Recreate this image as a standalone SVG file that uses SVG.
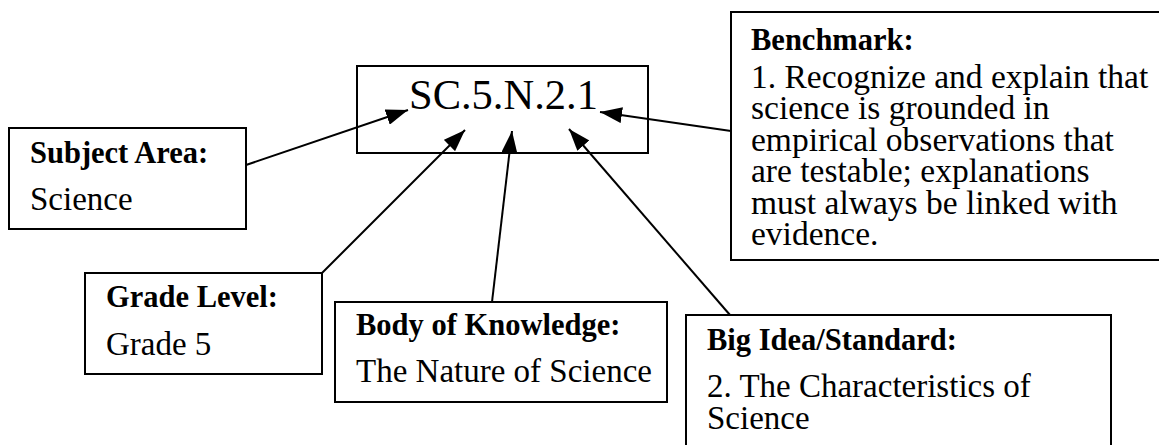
<svg xmlns="http://www.w3.org/2000/svg" width="1159" height="445" viewBox="0 0 1159 445">
<style>
.box{fill:#fff;stroke:#000;stroke-width:2}
.t{font-family:"Liberation Serif","Times New Roman",serif;fill:#000}
.b{font-weight:bold;font-size:30.5px}
.r{font-size:33px}
.bm{font-size:33.5px}
</style>
<defs>
<marker id="ah" viewBox="0 0 22 16" refX="22" refY="8" markerWidth="22" markerHeight="16" markerUnits="userSpaceOnUse" orient="auto">
<path d="M0,0 L22,8 L0,16 z" fill="#000"/>
</marker>
</defs>
<g id="code">
<rect class="box" x="357" y="66" width="291" height="87"/>
<text class="t" x="409" y="109" font-size="42.5">SC.5.N.2.1</text>
</g>
<g id="subject">
<rect class="box" x="9" y="128" width="237" height="101"/>
<text class="t b" x="30" y="163">Subject Area:</text>
<text class="t r" x="30" y="210">Science</text>
</g>
<g id="grade">
<rect class="box" x="85" y="273" width="237" height="101"/>
<text class="t b" x="106" y="307">Grade Level:</text>
<text class="t r" x="106" y="355">Grade 5</text>
</g>
<g id="body">
<rect class="box" x="335" y="302" width="332" height="100"/>
<text class="t b" x="356" y="335">Body of Knowledge:</text>
<text class="t r" x="356" y="382">The Nature of Science</text>
</g>
<g id="bigidea">
<rect class="box" x="686" y="315" width="425" height="140"/>
<text class="t b" x="707" y="350">Big Idea/Standard:</text>
<text class="t r" x="707" y="397">2. The Characteristics of</text>
<text class="t r" x="707" y="429">Science</text>
</g>
<g id="benchmark">
<rect class="box" x="731" y="12" width="440" height="248"/>
<text class="t b" x="751" y="50">Benchmark:</text>
<text class="t bm" x="751" y="87.5">1. Recognize and explain that</text>
<text class="t bm" x="751" y="119">science is grounded in</text>
<text class="t bm" x="751" y="150.5">empirical observations that</text>
<text class="t bm" x="751" y="182">are testable; explanations</text>
<text class="t bm" x="751" y="213.5">must always be linked with</text>
<text class="t bm" x="751" y="245">evidence.</text>
</g>
<g id="connectors" stroke="#000" stroke-width="2" fill="none">
<line x1="246" y1="165" x2="408" y2="110" marker-end="url(#ah)"/>
<line x1="322" y1="273" x2="465" y2="130" marker-end="url(#ah)"/>
<line x1="492" y1="302" x2="512" y2="131" marker-end="url(#ah)"/>
<line x1="730" y1="315" x2="569" y2="129" marker-end="url(#ah)"/>
<line x1="731" y1="131" x2="600" y2="112" marker-end="url(#ah)"/>
</g>
</svg>
